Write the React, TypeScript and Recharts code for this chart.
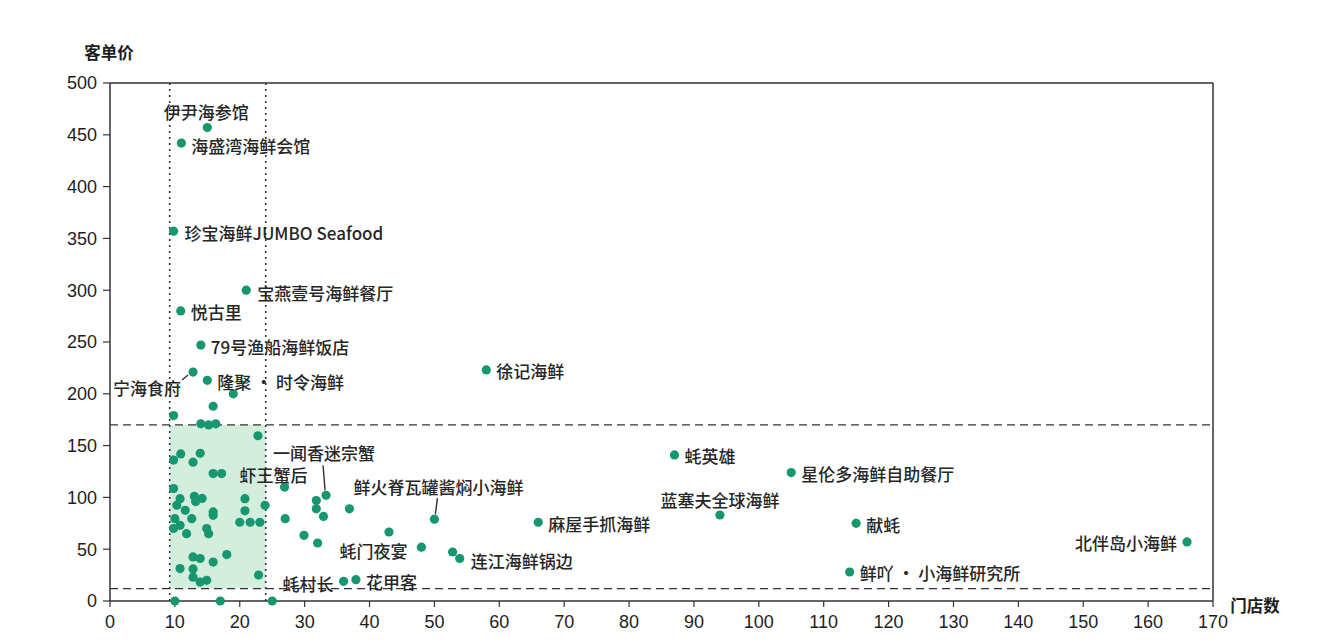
import React from 'react';
import {
  ScatterChart,
  Scatter,
  XAxis,
  YAxis,
  ReferenceLine,
  ReferenceArea,
  Label,
} from 'recharts';

// ---- data ----
const names: string[] = [
  '伊尹海参馆', '海盛湾海鲜会馆', '珍宝海鲜JUMBO Seafood', '宝燕壹号海鲜餐厅', '悦古里',
  '79号渔船海鲜饭店', '隆聚 · 时令海鲜', '宁海食府', '徐记海鲜', '一闻香迷宗蟹',
  '虾王蟹后', '鲜火脊瓦罐酱焖小海鲜', '麻屋手抓海鲜', '连江海鲜锅边', '蚝门夜宴',
  '蚝村长', '花甲客', '蚝英雄', '星伦多海鲜自助餐厅', '蓝塞夫全球海鲜',
  '献蚝', '北伴岛小海鲜', '鲜吖 · 小海鲜研究所',
];
const namedStores: number[] = [
  15, 11, 9.8, 21, 10.9, 14, 15, 12.8, 58, 33.3,
  26.9, 50, 66, 53.9, 48, 36, 37.9, 87, 105, 94,
  115, 166, 114,
];
const namedPrices: number[] = [
  457, 442, 357, 300, 280, 247, 213, 221, 223, 102,
  110, 79, 76, 41, 52, 19, 20.6, 141, 124, 83,
  75, 57, 28,
];

const otherStores: number[] = [
  9.8, 15.9, 19, 14, 15.2, 16.3, 22.8, 9.8, 10.9, 12.8,
  13.9, 15.9, 17.2, 9.8, 20.8, 10.8, 10.3, 11.6, 13, 14.2,
  13.2, 23.9, 20.8, 15.9, 12.6, 10, 10.8, 9.8, 11.8, 15.9,
  14.9, 15.2, 20, 21.6, 23.1, 27, 36.9, 31.8, 31.8, 32.9,
  29.9, 32, 43, 52.8, 12.8, 13.9, 15.9, 18, 10.8, 12.8,
  12.8, 13.9, 14.9, 22.9, 10, 17, 25,
];
const otherPrices: number[] = [
  179, 188, 200, 171, 170, 171, 159.5, 136, 142, 134,
  142.5, 123, 123, 108.5, 98.8, 98.8, 92.4, 87.5, 101, 99,
  96, 92.4, 87, 86, 79.5, 79.5, 73, 70, 65, 82.7,
  70, 65, 76, 76, 76, 79.5, 89, 97, 89, 81.6,
  63.4, 56, 66.6, 47.3, 42.5, 41, 37.6, 44.8, 31.3, 31,
  23, 18.3, 20, 25, 0, 0, 0,
];

const xTicks: number[] = [0, 10, 20, 30, 40, 50, 60, 70, 80, 90, 100, 110, 120, 130, 140, 150, 160, 170];
const yTicks: number[] = [0, 50, 100, 150, 200, 250, 300, 350, 400, 450, 500];

const xTitle = '门店数';
const yTitle = '客单价';

// zone boundaries (store counts / price)
const zoneX1 = 9.2;
const zoneX2 = 24;
const zoneY1 = 12;
const zoneY2 = 170;

// ---- label layout (pixel offsets relative to the dot) ----
type Placement = { dx: number; dy: number; anchor: 'start' | 'middle' | 'end'; leader?: [number, number, number, number] };
const placements: Record<string, Placement> = {
  '伊尹海参馆': { dx: -1, dy: -16, anchor: 'middle' },
  '海盛湾海鲜会馆': { dx: 10, dy: 2, anchor: 'start' },
  '珍宝海鲜JUMBO Seafood': { dx: 11, dy: 1, anchor: 'start' },
  '宝燕壹号海鲜餐厅': { dx: 11, dy: 2, anchor: 'start' },
  '悦古里': { dx: 10, dy: 1, anchor: 'start' },
  '79号渔船海鲜饭店': { dx: 10, dy: 1, anchor: 'start' },
  '隆聚 · 时令海鲜': { dx: 10, dy: 1, anchor: 'start' },
  '宁海食府': { dx: -12, dy: 15, anchor: 'end', leader: [-11, 8, -5, 3] },
  '徐记海鲜': { dx: 10, dy: 1, anchor: 'start' },
  '一闻香迷宗蟹': { dx: -2, dy: -43, anchor: 'middle', leader: [-3, -30, -1, -5] },
  '虾王蟹后': { dx: -11, dy: -13, anchor: 'middle' },
  '鲜火脊瓦罐酱焖小海鲜': { dx: 4, dy: -33, anchor: 'middle', leader: [3, -21, 1, -5] },
  '麻屋手抓海鲜': { dx: 10, dy: 1, anchor: 'start' },
  '连江海鲜锅边': { dx: 11, dy: 2, anchor: 'start' },
  '蚝门夜宴': { dx: -14, dy: 3, anchor: 'end' },
  '蚝村长': { dx: -10, dy: 2, anchor: 'end' },
  '花甲客': { dx: 10, dy: 2, anchor: 'start' },
  '蚝英雄': { dx: 10, dy: 1, anchor: 'start' },
  '星伦多海鲜自助餐厅': { dx: 10, dy: 1, anchor: 'start' },
  '蓝塞夫全球海鲜': { dx: 0, dy: -16, anchor: 'middle' },
  '献蚝': { dx: 10, dy: 1, anchor: 'start' },
  '北伴岛小海鲜': { dx: -10, dy: 1, anchor: 'end' },
  '鲜吖 · 小海鲜研究所': { dx: 10, dy: 1, anchor: 'start' },
};

const namedData = names.map((n, i) => ({ x: namedStores[i], y: namedPrices[i], name: n }));
const otherData = otherStores.map((x, i) => ({ x, y: otherPrices[i], name: '' }));

const DOT = '#16976f';
const INK = '#1e1e1e';
const CJK = '"Noto Sans CJK SC", "Noto Sans", sans-serif';
const LATIN = '"Liberation Sans", Arial, sans-serif';

const PlainDot = (props: any) => {
  const { cx, cy } = props;
  if (cx == null || cy == null) return null;
  return <circle cx={cx} cy={cy} r={4.6} fill={DOT} />;
};

const LabeledDot = (props: any) => {
  const { cx, cy, payload } = props;
  if (cx == null || cy == null) return null;
  const p = placements[payload.name];
  return (
    <g>
      <circle cx={cx} cy={cy} r={4.6} fill={DOT} />
      {p && p.leader && (
        <line
          x1={cx + p.leader[0]}
          y1={cy + p.leader[1]}
          x2={cx + p.leader[2]}
          y2={cy + p.leader[3]}
          stroke="#333"
          strokeWidth={1.4}
        />
      )}
      {p && (
        <text
          x={cx + p.dx}
          y={cy + p.dy}
          textAnchor={p.anchor}
          dominantBaseline="central"
          fontFamily={CJK}
          fontSize={17}
          fontWeight={500}
          fill="#262626"
        >
          {payload.name}
        </text>
      )}
    </g>
  );
};

const YTitle = (props: any) => {
  const vb = props.viewBox || {};
  return (
    <text
      x={vb.x + vb.width - 1}
      y={vb.y - 31}
      textAnchor="middle"
      dominantBaseline="central"
      fontFamily={CJK}
      fontWeight="bold"
      fontSize={16.5}
      fill={INK}
    >
      {yTitle}
    </text>
  );
};

const XTitle = (props: any) => {
  const vb = props.viewBox || {};
  return (
    <text
      x={vb.x + vb.width + 42}
      y={vb.y + 4}
      textAnchor="middle"
      dominantBaseline="central"
      fontFamily={CJK}
      fontWeight="bold"
      fontSize={16.5}
      fill={INK}
    >
      {xTitle}
    </text>
  );
};

export default function App() {
  return (
    <div style={{ position: 'absolute', left: 0, top: 0, width: 1320, height: 644, background: '#fff' }}>
      <ScatterChart
        width={1320}
        height={644}
        margin={{ top: 83, right: 107, bottom: 13, left: 0 }}
      >
        <XAxis
          dataKey="x"
          type="number"
          domain={[0, 170]}
          ticks={xTicks}
          interval={0}
          tickSize={6}
          tickMargin={8}
          height={30}
          axisLine={{ stroke: '#333', strokeWidth: 1.5 }}
          tickLine={{ stroke: '#333', strokeWidth: 1.2 }}
          tick={{ fill: INK, fontSize: 18, fontFamily: LATIN }}
        >
          <Label content={XTitle} />
        </XAxis>
        <YAxis
          dataKey="y"
          type="number"
          domain={[0, 500]}
          ticks={yTicks}
          interval={0}
          width={110}
          tickSize={7}
          tickMargin={6}
          axisLine={{ stroke: '#333', strokeWidth: 1.5 }}
          tickLine={{ stroke: '#333', strokeWidth: 1.2 }}
          tick={{ fill: INK, fontSize: 18, fontFamily: LATIN }}
        >
          <Label content={YTitle} />
        </YAxis>
        <ReferenceArea x1={zoneX1} x2={zoneX2} y1={zoneY1} y2={zoneY2} fill="#d3eedc" fillOpacity={1} stroke="none" />
        <ReferenceLine y={500} stroke="#333" strokeWidth={1.5} />
        <ReferenceLine x={170} stroke="#333" strokeWidth={1.5} />
        <ReferenceLine y={zoneY2} stroke="#333" strokeWidth={1.2} strokeDasharray="8 5" />
        <ReferenceLine y={zoneY1} stroke="#333" strokeWidth={1.2} strokeDasharray="8 5" />
        <ReferenceLine x={zoneX1} stroke="#333" strokeWidth={1.6} strokeDasharray="2 4" />
        <ReferenceLine x={zoneX2} stroke="#333" strokeWidth={1.6} strokeDasharray="2 4" />
        <Scatter data={otherData} shape={PlainDot} isAnimationActive={false} />
        <Scatter data={namedData} shape={LabeledDot} isAnimationActive={false} />
      </ScatterChart>
    </div>
  );
}
